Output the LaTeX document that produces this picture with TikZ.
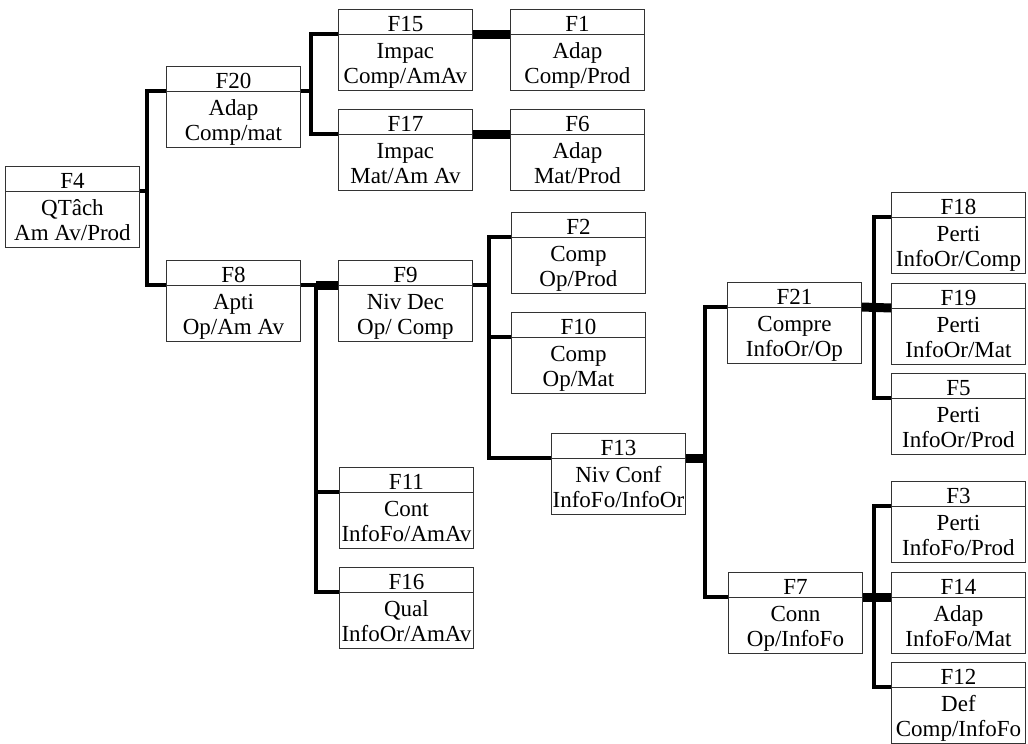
\documentclass[tikz,border=0pt]{standalone}
\usepackage{fontspec}
\setmainfont{Liberation Serif}
\usetikzlibrary{calc}
\tikzset{
  boxst/.style={draw=black!80, line width=0.9pt, minimum width=134pt, minimum height=81pt, inner sep=0pt, anchor=north west},
  hdrline/.style={draw=black!80, line width=0.9pt},
  txt/.style={anchor=base, inner sep=0pt, font=\fontsize{23}{25}\selectfont},
  conn/.style={line width=3.6pt, line join=miter, black},
  bar/.style={line width=9pt, black},
}
\newcommand\fnbox[6]{%
  \node[boxst] (#1) at (#2,#3) {};
  \coordinate (#1-w) at ($(#1.north west)+(0,25)$);
  \coordinate (#1-e) at ($(#1.north east)+(0,25)$);
  \draw[hdrline] (#1-w) -- (#1-e);
  \node[txt] (#1-t) at ($(#1.north)+(0,22)$) {#4};
  \node[txt] (#1-a) at ($(#1.north)+(0,49)$) {#5};
  \node[txt] (#1-b) at ($(#1.north)+(0,74)$) {#6};
}
\begin{document}
\begin{tikzpicture}[x=1pt,y=-1pt]
\useasboundingbox (0,0) rectangle (1028,744);
\fnbox{F4}{5}{166}{F4}{QTâch}{Am Av/Prod}
\fnbox{F20}{166}{66}{F20}{Adap}{Comp/mat}
\fnbox{F15}{338}{9}{F15}{Impac}{Comp/AmAv}
\fnbox{F17}{338}{109}{F17}{Impac}{Mat/Am Av}
\fnbox{F1}{510}{9}{F1}{Adap}{Comp/Prod}
\fnbox{F6}{510}{109}{F6}{Adap}{Mat/Prod}
\fnbox{F8}{166}{260}{F8}{Apti}{Op/Am Av}
\fnbox{F9}{338}{260}{F9}{Niv Dec}{Op/ Comp}
\fnbox{F2}{511}{212}{F2}{Comp}{Op/Prod}
\fnbox{F10}{511}{312}{F10}{Comp}{Op/Mat}
\fnbox{F13}{551}{433}{F13}{Niv Conf}{InfoFo/InfoOr}
\fnbox{F11}{339}{467}{F11}{Cont}{InfoFo/AmAv}
\fnbox{F16}{339}{567}{F16}{Qual}{InfoOr/AmAv}
\fnbox{F21}{727}{282}{F21}{Compre}{InfoOr/Op}
\fnbox{F18}{891}{192}{F18}{Perti}{InfoOr/Comp}
\fnbox{F19}{891}{283}{F19}{Perti}{InfoOr/Mat}
\fnbox{F5}{891}{373}{F5}{Perti}{InfoOr/Prod}
\fnbox{F3}{891}{481}{F3}{Perti}{InfoFo/Prod}
\fnbox{F7}{728}{572}{F7}{Conn}{Op/InfoFo}
\fnbox{F14}{891}{572}{F14}{Adap}{InfoFo/Mat}
\fnbox{F12}{891}{662}{F12}{Def}{Comp/InfoFo}
% junctions
\coordinate (j1) at (147,191);
\coordinate (j2) at (311,91);
\coordinate (j3) at (316,285);
\coordinate (j4) at (489,285);
\coordinate (j5) at (705,458);
\coordinate (j6) at (874,307);
\coordinate (j7) at (874,597);
% F4 tree
\draw[conn] (F4-e) -- (j1);
\draw[conn] (F20-w) -| (j1) |- (F8-w);
% F20
\draw[conn] (F20-e) -- (j2);
\draw[conn] (F15-w) -| (j2) |- (F17-w);
\draw[bar] (F15-e) -- (F1-w);
\draw[bar] (F17-e) -- (F6-w);
% F8
\draw[conn] (F8-e) -- (j3);
\draw[bar] (j3) -- (F9-w);
\draw[conn] (j3) |- (F16-w);
\draw[conn] (F11-w) -- (j3 |- F11-w);
% F9
\draw[conn] (F9-e) -- (j4);
\draw[conn] (F2-w) -| (j4) |- (F13-w);
\draw[conn] (F10-w) -- (j4 |- F10-w);
% F13
\draw[bar] (F13-e) -- (j5);
\draw[conn] (F21-w) -| (j5) |- (F7-w);
% F21
\draw[bar] (F21-e) -- (F19-w);
\draw[conn] (F18-w) -| (j6) |- (F5-w);
% F7
\draw[bar] (F7-e) -- (F14-w);
\draw[conn] (F3-w) -| (j7) |- (F12-w);
\end{tikzpicture}
\end{document}
